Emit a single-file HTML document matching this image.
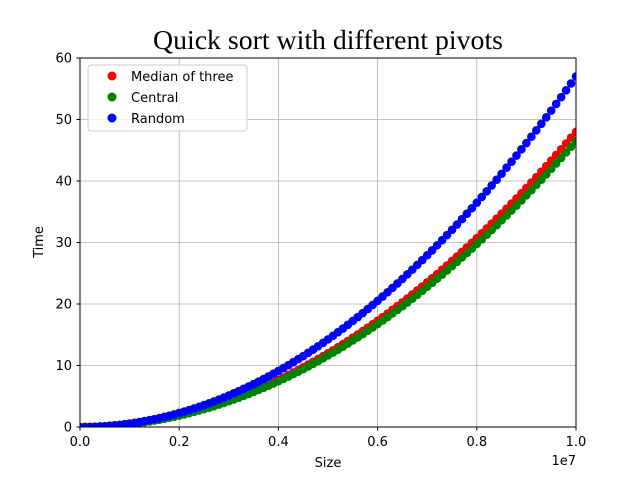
<!DOCTYPE html>
<html><head><meta charset="utf-8"><style>
body{margin:0;background:#fff;}
svg text{font-family:"DejaVu Sans","Liberation Sans",sans-serif;}
</style></head><body>
<svg id="chart" width="640" height="480" xmlns="http://www.w3.org/2000/svg">
<defs><clipPath id="plotclip"><rect x="80" y="58" width="496" height="369"/></clipPath></defs>
<rect width="640" height="480" fill="#fff"/>
<text x="328" y="49" text-anchor="middle" style="font-family:'Liberation Serif',serif;font-size:27.8px">Quick sort with different pivots</text>
<g id="grid"></g>
<g id="marks" clip-path="url(#plotclip)"></g>
<rect x="80" y="58" width="496" height="369" fill="none" stroke="#000" stroke-width="1"/>
<g id="ticks"></g>
<text x="328" y="467" text-anchor="middle" font-size="13">Size</text>
<text x="576" y="465" text-anchor="end" font-size="13">1e7</text>
<text transform="translate(43,242) rotate(-90)" text-anchor="middle" font-size="13">Time</text>
<g>
<rect x="88" y="65" width="159" height="66" rx="3" fill="#fff" fill-opacity="0.8" stroke="#ccc"/>
<circle cx="112" cy="76" r="4.5" fill="red"/><text x="131" y="81" font-size="13">Median of three</text>
<circle cx="112" cy="97" r="4.5" fill="green"/><text x="131" y="102" font-size="13">Central</text>
<circle cx="112" cy="118" r="4.5" fill="blue"/><text x="131" y="123" font-size="13">Random</text>
</g>
</svg>
<script>
const sizesE7=[];for(let i=0;i<=100;i++)sizesE7.push(i/100);
const medianTimes=[0,0,.02,.04,.08,.12,.17,.24,.31,.39,.48,.58,.69,.81,.94,1.08,1.23,1.39,1.56,1.73,1.92,2.12,2.32,2.54,2.76,3.0,3.24,3.5,3.76,4.04,4.32,4.61,4.92,5.23,5.55,5.88,6.22,6.57,6.93,7.3,7.68,8.07,8.47,8.88,9.29,9.72,10.16,10.6,11.06,11.52,12.0,12.48,12.98,13.48,14.0,14.52,15.05,15.6,16.15,16.71,17.28,17.86,18.45,19.05,19.66,20.28,20.91,21.55,22.2,22.85,23.52,24.2,24.88,25.58,26.28,27.0,27.72,28.46,29.2,29.96,30.72,31.49,32.28,33.07,33.87,34.68,35.5,36.33,37.17,38.02,38.88,39.75,40.63,41.52,42.41,43.32,44.24,45.16,46.1,47.04,48.0];
const centralTimes=[0,0,.02,.04,.07,.12,.17,.23,.3,.38,.47,.56,.67,.79,.91,1.05,1.19,1.34,1.51,1.68,1.86,2.05,2.25,2.46,2.68,2.91,3.14,3.39,3.65,3.91,4.19,4.47,4.76,5.06,5.38,5.7,6.03,6.37,6.71,7.07,7.44,7.82,8.2,8.6,9.0,9.42,9.84,10.27,10.71,11.16,11.63,12.09,12.57,13.06,13.56,14.07,14.58,15.11,15.64,16.19,16.74,17.3,17.87,18.46,19.05,19.65,20.26,20.87,21.5,22.14,22.79,23.44,24.11,24.78,25.46,26.16,26.86,27.57,28.29,29.02,29.76,30.51,31.27,32.03,32.81,33.6,34.39,35.2,36.01,36.83,37.67,38.51,39.36,40.22,41.09,41.97,42.85,43.75,44.66,45.57,46.5];
const randomTimes=[0,.01,.02,.05,.09,.14,.21,.28,.36,.46,.57,.69,.82,.96,1.12,1.28,1.46,1.65,1.85,2.06,2.28,2.51,2.76,3.02,3.28,3.56,3.85,4.16,4.47,4.79,5.13,5.48,5.84,6.21,6.59,6.98,7.39,7.80,8.23,8.67,9.12,9.58,10.05,10.54,11.04,11.54,12.06,12.59,13.13,13.69,14.25,14.83,15.41,16.01,16.62,17.24,17.88,18.52,19.17,19.84,20.52,21.21,21.91,22.62,23.35,24.08,24.83,25.59,26.36,27.14,27.93,28.73,29.55,30.38,31.21,32.06,32.92,33.80,34.68,35.57,36.48,37.40,38.33,39.27,40.22,41.18,42.16,43.14,44.14,45.15,46.17,47.20,48.24,49.30,50.36,51.44,52.53,53.63,54.74,55.87,57.0];
const xTicks=[0,0.2,0.4,0.6,0.8,1.0];
const xTickLabels=["0.0","0.2","0.4","0.6","0.8","1.0"];
const yTicks=[0,10,20,30,40,50,60];
const NS="http://www.w3.org/2000/svg";
const X=v=>80+v/1.0*496, Y=v=>427-v/60*369;
const grid=document.getElementById('grid'),ticks=document.getElementById('ticks'),marks=document.getElementById('marks');
function mk(t,a,p){const e=document.createElementNS(NS,t);for(const k in a)e.setAttribute(k,a[k]);p.appendChild(e);return e;}
xTicks.forEach((v,i)=>{
 const g=mk('line',{x1:X(v),x2:X(v),y1:58,y2:427,stroke:'#b0b0b0','stroke-width':0.8},grid);
 
 
 mk('line',{x1:X(v),x2:X(v),y1:427,y2:430.5,stroke:'#000'},ticks);
 const t=mk('text',{x:X(v),y:446,'text-anchor':'middle','font-size':13},ticks);t.textContent=xTickLabels[i];
 
 
});
yTicks.forEach(v=>{
 const g=mk('line',{x1:80,x2:576,y1:Y(v),y2:Y(v),stroke:'#b0b0b0','stroke-width':0.8},grid);
 
 
 mk('line',{x1:76.5,x2:80,y1:Y(v),y2:Y(v),stroke:'#000'},ticks);
 const t=mk('text',{x:72,y:Y(v)+4.5,'text-anchor':'end','font-size':13},ticks);t.textContent=v;
 
 
});
[[medianTimes,'red','median'],[centralTimes,'green','central'],[randomTimes,'blue','random']].forEach(([arr,c,n])=>{
 arr.forEach((v,i)=>{
  const p=mk('circle',{cx:X(sizesE7[i]),cy:Y(v),r:4.3,fill:c},marks);
  
  
 });
});
</script>
</body></html>
